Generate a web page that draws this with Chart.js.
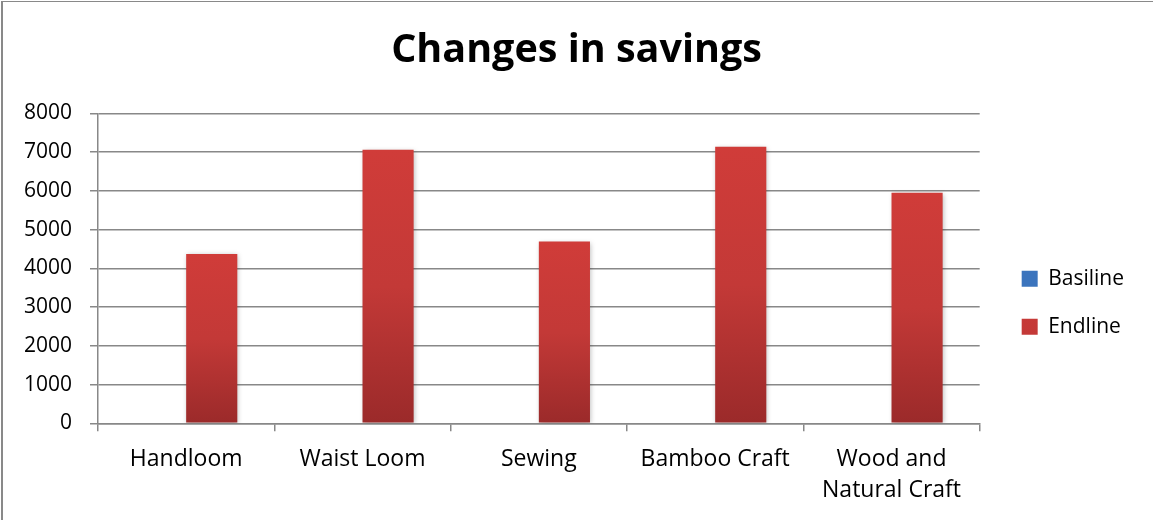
<!DOCTYPE html>
<html>
<head>
<meta charset="utf-8">
<title>Changes in savings</title>
<script src="https://cdn.jsdelivr.net/npm/chart.js@4.4.1/dist/chart.umd.min.js"></script>
<style>
  html, body { margin: 0; padding: 0; background: #fff; }
  #wrap { position: relative; width: 1153px; height: 520px; }
  #frame {
    position: absolute; left: 1px; top: 1px; right: -4px; bottom: -4px;
    border-left: 2px solid #898989; border-top: 1px solid #898989;
    pointer-events: none;
  }
</style>
</head>
<body>
<div id="wrap">
  <canvas id="savingsChart" width="1153" height="520"></canvas>
  <div id="frame"></div>
</div>
<script>
  const categories = ['Handloom', 'Waist Loom', 'Sewing', 'Bamboo Craft', ['Wood and', 'Natural Craft']];
  const basiline = [0, 0, 0, 0, 0];
  const endline = [4370, 7060, 4690, 7140, 5950];
  const yTicks = [0, 1000, 2000, 3000, 4000, 5000, 6000, 7000, 8000];

  const gridGray = '#888888';

  // vertical gradient running from the top of each bar down to its base
  function barFill(light, mid, dark) {
    return (ctx) => {
      const chart = ctx.chart;
      if (!chart.chartArea || ctx.type !== 'data') return mid;
      const y = chart.scales.y;
      const top = y.getPixelForValue(ctx.raw);
      const base = y.getPixelForValue(0);
      if (!(base > top)) return mid;
      const g = chart.ctx.createLinearGradient(0, top, 0, base);
      g.addColorStop(0, light);
      g.addColorStop(0.5, mid);
      g.addColorStop(1, dark);
      return g;
    };
  }

  // soft drop shadow under the bars
  const barShadow = {
    id: 'barShadow',
    beforeDatasetsDraw(chart) {
      const c = chart.ctx;
      c.save();
      c.shadowColor = 'rgba(0,0,0,0.28)';
      c.shadowBlur = 5;
      c.shadowOffsetX = 1;
      c.shadowOffsetY = 1;
    },
    afterDatasetsDraw(chart) {
      chart.ctx.restore();
    }
  };

  // shift the legend and title blocks once the layout is done
  const boxNudge = {
    id: 'boxNudge',
    afterLayout(chart, args, opts) {
      const move = (box, d) => {
        if (!box || !d) return;
        box.left += d.x || 0; box.right += d.x || 0;
        box.top += d.y || 0; box.bottom += d.y || 0;
      };
      move(chart.legend, opts.legend);
      move(chart.titleBlock, opts.title);
    }
  };

  Chart.defaults.font.family = "'Open Sans', sans-serif";
  Chart.defaults.color = '#000';

  new Chart(document.getElementById('savingsChart'), {
    type: 'bar',
    data: {
      labels: categories,
      datasets: [{
        label: 'Basiline',
        data: basiline,
        backgroundColor: barFill('#4a87d2', '#3b74bd', '#2c5d9e'),
        borderWidth: 0
      }, {
        label: 'Endline',
        data: endline,
        backgroundColor: barFill('#d03c39', '#c33937', '#9b2a2a'),
        borderWidth: 0
      }]
    },
    options: {
      responsive: false,
      animation: false,
      categoryPercentage: 0.58,
      barPercentage: 1,
      layout: {
        padding: { left: 20, right: 34, top: 0, bottom: 0 }
      },
      plugins: {
        title: {
          display: true,
          text: 'Changes in savings',
          color: '#000',
          font: { size: 39.5, weight: 'bold', lineHeight: 1.2 },
          padding: { top: 24, bottom: 42 }
        },
        legend: {
          display: true,
          position: 'right',
          fullSize: false,
          labels: {
            boxWidth: 16,
            boxHeight: 16,
            padding: 27,
            color: '#000',
            font: { size: 21 }
          }
        },
        tooltip: { enabled: false },
        boxNudge: {
          legend: { x: 15, y: 34.5 },
          title: { x: 7, y: 3 }
        }
      },
      scales: {
        x: {
          afterFit(scale) { scale.height = 96.7; },
          grid: {
            offset: true,
            drawOnChartArea: false,
            drawTicks: true,
            tickLength: 8,
            color: gridGray,
            lineWidth: 1.5
          },
          border: { display: true, color: gridGray, width: 1.5 },
          ticks: {
            padding: 13,
            color: '#000',
            font: { size: 23, lineHeight: 1.35 }
          }
        },
        y: {
          min: 0,
          max: 8000,
          afterFit(scale) { scale.width = 78; },
          afterBuildTicks(scale) {
            scale.ticks = yTicks.map(v => ({ value: v }));
          },
          grid: {
            drawTicks: true,
            tickLength: 8,
            color: gridGray,
            lineWidth: 1.5
          },
          border: { display: true, color: gridGray, width: 1.5 },
          ticks: {
            padding: 18,
            color: '#000',
            font: { size: 21 },
            callback: (value) => String(value)
          }
        }
      }
    },
    plugins: [barShadow, boxNudge]
  });
</script>
</body>
</html>
